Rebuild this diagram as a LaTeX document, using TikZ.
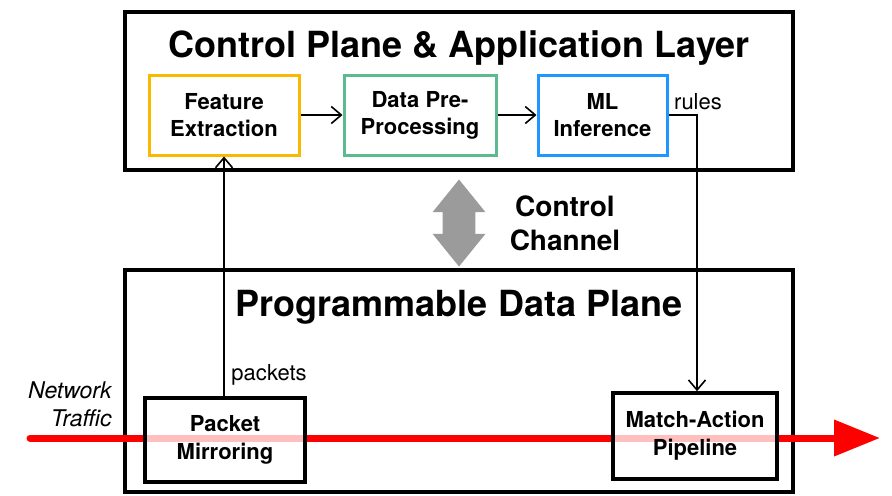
\documentclass[tikz,border=0pt]{standalone}
\usepackage{fontspec}
\setmainfont{TeX Gyre Heros}
\usetikzlibrary{shapes.arrows,arrows.meta}

\definecolor{featorange}{RGB}{250,184,0}
\definecolor{prepgreen}{RGB}{92,186,142}
\definecolor{mlblue}{RGB}{32,150,255}
\definecolor{chgray}{RGB}{155,155,155}

\begin{document}
\begin{tikzpicture}[x=0.5pt,y=-0.5pt,
    layer/.style={draw=black, line width=2pt, fill=white},
    stage/.style={draw, line width=1.5pt, fill=white, minimum height=40pt,
        align=center, font=\fontsize{11}{13.5}\selectfont\bfseries},
    dpbox/.style={draw=black, line width=1.8pt, fill=white, fill opacity=0.75,
        text opacity=1, align=center, font=\fontsize{11}{14}\selectfont\bfseries},
    title/.style={font=\fontsize{18}{20}\selectfont\bfseries},
    lbl/.style={font=\fontsize{11}{14}\selectfont},
    flow/.style={-{Straight Barb[length=5pt,width=8.5pt]}, line width=0.8pt}]
    \useasboundingbox (0,0) rectangle (892,495);

    % Ebenen
    \node[layer, minimum width=334pt, minimum height=79pt] (cp) at (459,91) {};
    \node[layer, minimum width=334pt, minimum height=111pt] (dp) at (459,381) {};
    \node[title] (cptitle) at (459,48) {Control Plane \& Application Layer};
    \node[title] (dptitle) at (459,307) {Programmable Data Plane};

    % ML-Pipeline
    \node[stage, draw=featorange, minimum width=75pt] (feat) at (224,115) {Feature\\Extraction};
    \node[stage, draw=prepgreen, minimum width=76pt] (prep) at (420,115) {Data Pre-\\Processing};
    \node[stage, draw=mlblue, minimum width=64.5pt] (ml) at (602.5,115) {ML\\Inference};
    \draw[flow] (feat) -- (prep);
    \draw[flow] (prep) -- (ml);

    % Kontrollkanal
    \node[double arrow, fill=chgray, minimum height=43.5pt, minimum width=26pt,
        double arrow head extend=5pt, double arrow tip angle=78, inner sep=8pt,
        rotate=90] (chan) at (459,223) {};
    \node[font=\fontsize{14}{17}\selectfont\bfseries, align=center] (chantxt) at (565,223) {Control\\Channel};

    % Netzverkehr
    \coordinate (trafin) at (30,438);
    \coordinate (trafout) at (880,438);
    \draw[red, line width=3.5pt, line cap=round, -{Triangle[length=23pt,width=17.5pt]}] (trafin) -- (trafout);
    \node[font=\fontsize{11.5}{14}\selectfont\itshape, align=right, anchor=east, inner sep=0pt] (nettxt) at (112,404) {Network\\Traffic};

    % Data-Plane-Bausteine
    \node[dpbox, minimum width=80pt, minimum height=42pt] (mirror) at (225,440) {Packet\\Mirroring};
    \node[dpbox, minimum width=82pt, minimum height=43pt] (match) at (695,436) {Match-Action\\Pipeline};

    % Verbindungen
    \draw[flow] (mirror.north -| feat) -- node[lbl, pos=0.09, right] (pkttxt) {packets} (feat.south);
    \coordinate (rulebend) at (697,115);
    \draw[flow] (ml.east) -- (rulebend) -- (match.north -| rulebend);
    \node[lbl] (ruletxt) at (698,102) {rules};
\end{tikzpicture}
\end{document}
